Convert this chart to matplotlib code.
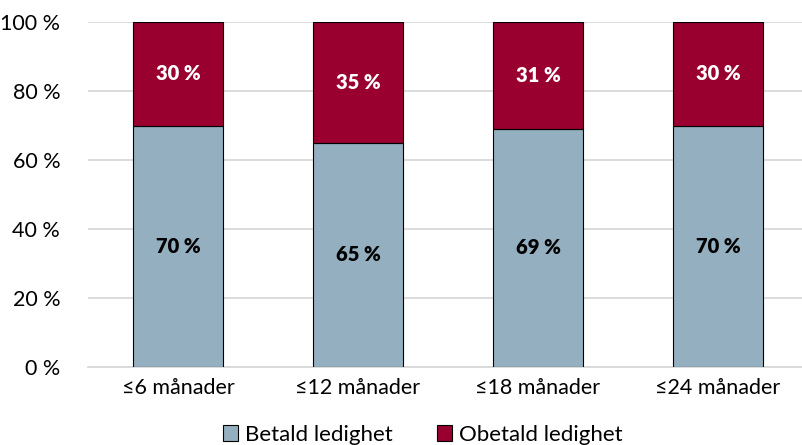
import numpy as np
import matplotlib.pyplot as plt
from matplotlib.ticker import FuncFormatter

plt.rcParams['font.family'] = ['Lato', 'DejaVu Sans']

categories = ['≤6 månader', '≤12 månader', '≤18 månader', '≤24 månader']
betald = [70, 65, 69, 70]
obetald = [30, 35, 31, 30]
series_names = ['Betald ledighet', 'Obetald ledighet']

blue = '#94AFBF'
red = '#990030'

fig = plt.figure(figsize=(8.02, 4.45), dpi=100)
ax = fig.add_axes([88 / 802, 78 / 445, 720 / 802, 345 / 445])

x = np.arange(len(categories))
b1 = ax.bar(x, betald, width=0.5, color=blue, edgecolor='black', linewidth=0.8,
            label=series_names[0], zorder=3)
b2 = ax.bar(x, obetald, width=0.5, bottom=betald, color=red, edgecolor='black',
            linewidth=0.8, label=series_names[1], zorder=3)

for i in range(len(categories)):
    ax.text(x[i], betald[i] / 2, f'{betald[i]} %', ha='center', va='center',
            fontsize=14.5, fontweight='heavy', color='black', zorder=4)
    ax.text(x[i], betald[i] + obetald[i] / 2, f'{obetald[i]} %', ha='center',
            va='center', fontsize=14.5, fontweight='heavy', color='white', zorder=4)

ax.set_xlim(-0.5, 3.5)
ax.set_ylim(0, 100)
ax.set_yticks(range(0, 101, 20))
ax.yaxis.set_major_formatter(FuncFormatter(lambda v, p: f'{int(v)} %'))
ax.set_xticks(x)
ax.set_xticklabels(categories)
ax.tick_params(axis='both', length=0, labelsize=15.5)
ax.tick_params(axis='y', pad=20)
ax.tick_params(axis='x', pad=8)
ax.grid(axis='y', color='#D9D9D9', linewidth=1.3, zorder=0)
for s in ['top', 'right', 'left']:
    ax.spines[s].set_visible(False)
ax.spines['bottom'].set_color('#D9D9D9')
ax.spines['bottom'].set_linewidth(1.3)

fig.legend(handles=[b1, b2], loc='lower center', bbox_to_anchor=(0.527, -0.045),
           ncol=2, frameon=False, fontsize=16, handlelength=0.7,
           handleheight=0.7, handletextpad=0.3, columnspacing=2.0)

fig.savefig('out.png', dpi=100)
